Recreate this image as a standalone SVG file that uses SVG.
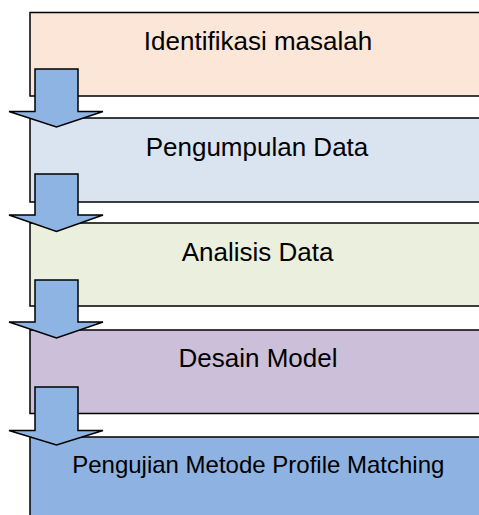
<svg xmlns="http://www.w3.org/2000/svg" width="479" height="515" viewBox="0 0 479 515">
<style>
.box{stroke:#000;stroke-width:1.5}
.lbl{font-family:"Liberation Sans",Arial,sans-serif;font-size:26px;fill:#000;text-anchor:middle}
.arr{fill:#8EB4E3;stroke:#000;stroke-width:1.5;stroke-linejoin:miter}
</style>
<rect width="479" height="515" fill="#fff"/>
<g id="node1"><rect class="box" x="30" y="12.5" width="460" height="83.5" fill="#FCE6D8"/><text class="lbl" x="258" y="50">Identifikasi masalah</text></g>
<g id="node2"><rect class="box" x="30" y="118" width="460" height="84" fill="#DAE4F0"/><text class="lbl" x="257" y="155.5">Pengumpulan Data</text></g>
<g id="node3"><rect class="box" x="30" y="223" width="460" height="83" fill="#EAF0DD"/><text class="lbl" x="257.5" y="260.5">Analisis Data</text></g>
<g id="node4"><rect class="box" x="30" y="330" width="460" height="83.5" fill="#CCBFD9"/><text class="lbl" x="258" y="366.5">Desain Model</text></g>
<g id="node5"><rect class="box" x="30" y="437" width="460" height="90" fill="#8EB2E1"/><text class="lbl" x="258.3" y="472.5" style="font-size:24px">Pengujian Metode Profile Matching</text></g>
<g id="connectors">
<path class="arr" d="M35,69 H78 V111.5 H103 L56.5,127 L9,111.5 H35 Z"/>
<path class="arr" d="M35,174 H78 V215 H103 L56.5,231.5 L9,215 H35 Z"/>
<path class="arr" d="M35,280 H78 V322 H103 L56.5,338 L9,322 H35 Z"/>
<path class="arr" d="M35,387 H78 V430.5 H103 L56.5,445 L9,430.5 H35 Z"/>
</g>
</svg>
